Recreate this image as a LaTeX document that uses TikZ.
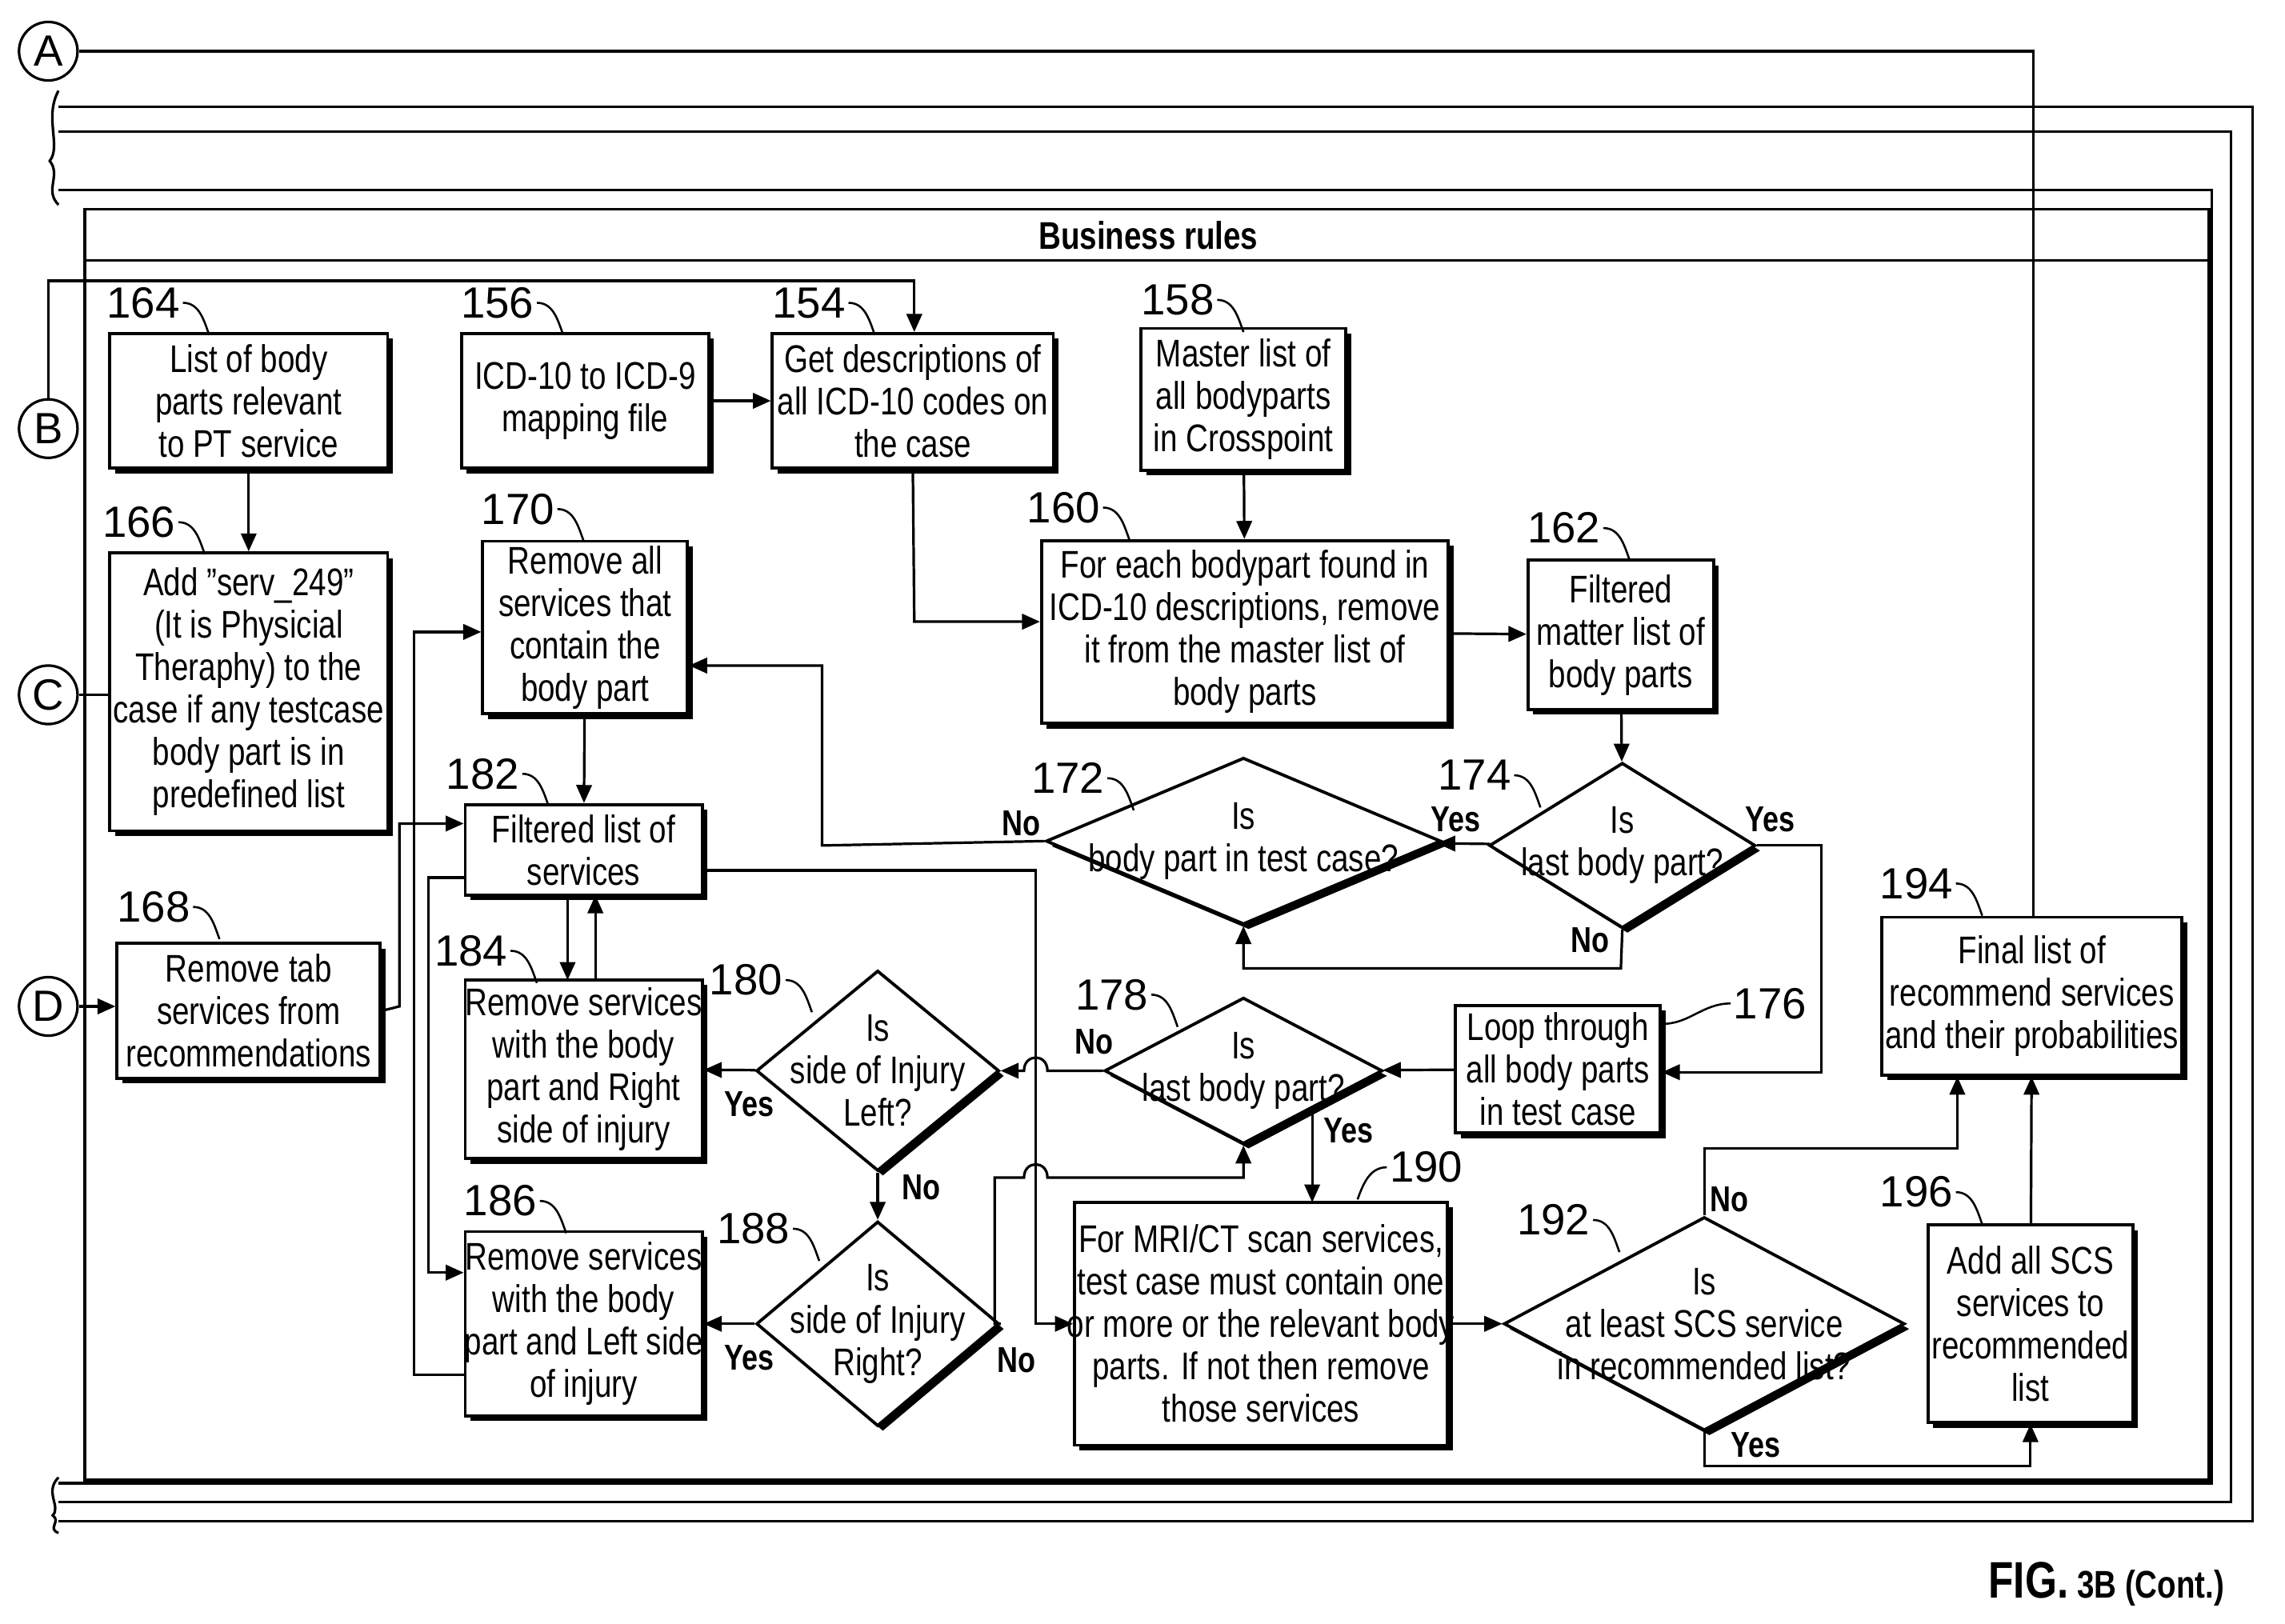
\documentclass[tikz,border=0pt]{standalone}
\usepackage{fontspec}
\setmainfont{Liberation Sans}[FakeStretch=0.8]
\newfontfamily\numfont{Liberation Sans}
\usetikzlibrary{shapes.geometric,shadows,arrows.meta}
\tikzset{
  box/.style={draw,line width=1.2pt,fill=white,align=center,inner sep=0pt,
    drop shadow={shadow xshift=2pt,shadow yshift=-2pt,opacity=1,fill=black}},
  dia/.style={diamond,draw,line width=1.2pt,fill=white,inner sep=0pt,
    drop shadow={shadow xshift=2pt,shadow yshift=-2pt,opacity=1,fill=black}},
  txt/.style={align=center,font=\fontsize{15}{16.5}\selectfont},
  num/.style={font=\numfont\fontsize{17}{18}\selectfont,inner sep=1pt},
  yn/.style={font=\bfseries\fontsize{14}{15}\selectfont,inner sep=1pt},
  hook/.style={line width=0.8pt},
  conn/.style={line width=1pt},
  arr/.style={conn,-{Triangle[length=7pt,width=6pt]}},
  letter/.style={circle,draw,line width=1pt,minimum size=40*0.02cm,inner sep=0pt,
    font=\numfont\fontsize{17}{18}\selectfont}
}
\begin{document}
\begin{tikzpicture}[x=0.02cm,y=-0.02cm]
\useasboundingbox (0,0) rectangle (1562,1110);

% frames
\draw[conn] (40,73) -- (1540,73) -- (1540,1040) -- (40,1040);
\draw[conn] (40,90) -- (1525,90) -- (1525,1027) -- (40,1027);
\draw[conn] (40,130) -- (1512,130) -- (1512,1014) -- (40,1014);
\draw[conn] (40,62) .. controls (30,80) and (42,100) .. (34,110) .. controls (42,120) and (30,130) .. (40,140);
\draw[conn] (40,1010) .. controls (30,1020) and (42,1030) .. (36,1036) .. controls (42,1040) and (32,1045) .. (40,1048);
\draw[line width=1.2pt] (58,143) rectangle (1510,1012);
\draw[line width=1pt] (58,178) -- (1510,178);
\node[font=\bfseries\fontsize{15}{16}\selectfont] (title) at (785,161) {Business rules};

% connectors letters
\node[letter] (A) at (33,35) {A};
\node[letter] (B) at (33,293) {B};
\node[letter] (C) at (33,475) {C};
\node[letter] (D) at (33,688) {D};

% boxes
\node[box,minimum width=190*0.02cm,minimum height=92*0.02cm] (b164) at (170,274) {};
\node[txt] at (b164) {List of body\\parts relevant\\to PT service};
\node[box,minimum width=169*0.02cm,minimum height=92*0.02cm] (b156) at (400,274) {};
\node[txt] at (b156) {ICD-10 to ICD-9\\mapping file};
\node[box,minimum width=192*0.02cm,minimum height=92*0.02cm] (b154) at (624,274) {};
\node[txt] at (b154) {Get descriptions of\\all ICD-10 codes on\\the case};
\node[box,minimum width=140*0.02cm,minimum height=97*0.02cm] (b158) at (850,273) {};
\node[txt] at (b158) {Master list of\\all bodyparts\\in Crosspoint};
\node[box,minimum width=190*0.02cm,minimum height=190*0.02cm] (b166) at (170,473) {};
\node[txt] at (b166) {Add "serv\_249"\\(It is Physicial\\Theraphy) to the\\case if any testcase\\body part is in\\predefined list};
\node[box,minimum width=140*0.02cm,minimum height=118*0.02cm] (b170) at (400,429) {};
\node[txt] at (b170) {Remove all\\services that\\contain the\\body part};
\node[box,minimum width=278*0.02cm,minimum height=125*0.02cm] (b160) at (851,432) {};
\node[txt] at (b160) {For each bodypart found in\\ICD-10 descriptions, remove\\it from the master list of\\body parts};
\node[box,minimum width=127*0.02cm,minimum height=102*0.02cm] (b162) at (1108,434) {};
\node[txt] at (b162) {Filtered\\matter list of\\body parts};
\node[box,minimum width=162*0.02cm,minimum height=62*0.02cm] (b182) at (399,581) {};
\node[txt] at (b182) {Filtered list of\\services};
\node[box,minimum width=180*0.02cm,minimum height=92*0.02cm] (b168) at (170,691) {};
\node[txt] at (b168) {Remove tab\\services from\\recommendations};
\node[box,minimum width=162*0.02cm,minimum height=122*0.02cm] (b184) at (399,731) {};
\node[txt] at (b184) {Remove services\\with the body\\part and Right\\side of injury};
\node[box,minimum width=162*0.02cm,minimum height=126*0.02cm] (b186) at (399,905) {};
\node[txt] at (b186) {Remove services\\with the body\\part and Left side\\of injury};
\node[box,minimum width=140*0.02cm,minimum height=87*0.02cm] (b176) at (1065,731) {};
\node[txt] at (b176) {Loop through\\all body parts\\in test case};
\node[box,minimum width=205*0.02cm,minimum height=108*0.02cm] (b194) at (1389,681) {};
\node[txt] at (b194) {Final list of\\recommend services\\and their probabilities};
\node[box,minimum width=140*0.02cm,minimum height=135*0.02cm] (b196) at (1388,905) {};
\node[txt] at (b196) {Add all SCS\\services to\\recommended\\list};
\node[box,minimum width=255*0.02cm,minimum height=166*0.02cm] (b190) at (862,905) {};
\node[txt] at (b190) {For MRI/CT scan services,\\test case must contain one\\or more or the relevant body\\parts. If not then remove\\those services};

% decisions
\node[dia,minimum width=270*0.02cm,minimum height=114*0.02cm] (d172) at (850,575) {};
\node[txt] at (d172) {Is\\body part in test case?};
\node[dia,minimum width=182*0.02cm,minimum height=113*0.02cm] (d174) at (1109,578) {};
\node[txt] at (d174) {Is\\last body part?};
\node[dia,minimum width=190*0.02cm,minimum height=100*0.02cm] (d178) at (850,732) {};
\node[txt] at (d178) {Is\\last body part?};
\node[dia,minimum width=166*0.02cm,minimum height=137*0.02cm] (d180) at (600,732) {};
\node[txt] at (d180) {Is\\side of Injury\\Left?};
\node[dia,minimum width=166*0.02cm,minimum height=140*0.02cm] (d188) at (600,905) {};
\node[txt] at (d188) {Is\\side of Injury\\Right?};
\node[dia,minimum width=274*0.02cm,minimum height=146*0.02cm] (d192) at (1165,905) {};
\node[txt] at (d192) {Is\\at least SCS service\\in recommended list?};

% reference numerals
\node[num] (n164) at (98,207) {164};
\draw[hook] (n164.east) to[out=0,in=110] ++(18,22);
\node[num] (n156) at (340,207) {156};
\draw[hook] (n156.east) to[out=0,in=110] ++(18,22);
\node[num] (n154) at (553,207) {154};
\draw[hook] (n154.east) to[out=0,in=110] ++(18,22);
\node[num] (n158) at (805,205) {158};
\draw[hook] (n158.east) to[out=0,in=110] ++(18,22);
\node[num] (n166) at (95,357) {166};
\draw[hook] (n166.east) to[out=0,in=110] ++(18,22);
\node[num] (n170) at (354,348) {170};
\draw[hook] (n170.east) to[out=0,in=110] ++(18,22);
\node[num] (n160) at (727,347) {160};
\draw[hook] (n160.east) to[out=0,in=110] ++(18,22);
\node[num] (n162) at (1069,361) {162};
\draw[hook] (n162.east) to[out=0,in=110] ++(18,22);
\node[num] (n182) at (330,529) {182};
\draw[hook] (n182.east) to[out=0,in=110] ++(18,22);
\node[num] (n172) at (730,532) {172};
\draw[hook] (n172.east) to[out=0,in=110] ++(18,22);
\node[num] (n174) at (1008,530) {174};
\draw[hook] (n174.east) to[out=0,in=110] ++(18,22);
\node[num] (n168) at (105,620) {168};
\draw[hook] (n168.east) to[out=0,in=110] ++(18,22);
\node[num] (n184) at (322,650) {184};
\draw[hook] (n184.east) to[out=0,in=110] ++(18,22);
\node[num] (n180) at (510,670) {180};
\draw[hook] (n180.east) to[out=0,in=110] ++(18,22);
\node[num] (n178) at (760,680) {178};
\draw[hook] (n178.east) to[out=0,in=110] ++(18,22);
\node[num] (n176) at (1210,686) {176};
\draw[hook] (n176.west) to[out=180,in=0] (b176.east |- 0,700);
\node[num] (n194) at (1310,604) {194};
\draw[hook] (n194.east) to[out=0,in=110] ++(18,22);
\node[num] (n190) at (975,798) {190};
\draw[hook] (n190.west) to[out=180,in=70] ++(-20,22);
\node[num] (n196) at (1310,815) {196};
\draw[hook] (n196.east) to[out=0,in=110] ++(18,22);
\node[num] (n186) at (342,821) {186};
\draw[hook] (n186.east) to[out=0,in=110] ++(18,22);
\node[num] (n188) at (515,840) {188};
\draw[hook] (n188.east) to[out=0,in=110] ++(18,22);
\node[num] (n192) at (1062,834) {192};
\draw[hook] (n192.east) to[out=0,in=110] ++(18,22);

% off-page links
\draw[conn] (A) -- (1390,35) -- (b194.north -| 1390,0);
\draw[arr] (B) -- (33,192) -- (625,192) -- (b154.north -| 625,0);
\draw[conn] (C) -- (b166.west |- C);
\draw[arr] (D) -- (b168.west |- D);

% flow
\draw[arr] (b164) -- (b166);
\draw[arr] (b156) -- (b154);
\draw[arr] (b154.south) -- (625,425) -- (b160.west |- 0,425);
\draw[arr] (b158) -- (b160);
\draw[arr] (b160) -- (b162);
\draw[arr] (b162) -- (d174);
\draw[arr] (d174) -- (d172);
\node[yn] (y174a) at (995,560) {Yes};
\draw[arr] (d172.west) -- (562,578) -- (562,455) -- (b170.east |- 0,455);
\node[yn] (n172no) at (698,563) {No};
\draw[arr] (d174.south) -- (1108,662) -- (850,662) -- (d172.south);
\node[yn] (n174no) at (1087,643) {No};
\draw[arr] (d174.east) -- (1245,578) -- (1245,733) -- (b176.east |- 0,733);
\node[yn] (y174b) at (1210,560) {Yes};
\draw[arr] (b176) -- (d178);
\draw[arr] (d178.west) -- (716,732) .. controls (716,720) and (700,720) .. (700,732) -- (d180.east);
\node[yn] (n178no) at (748,712) {No};
\draw[arr] (897,757) -- (897,822);
\node[yn] (y178) at (922,773) {Yes};
\draw[arr] (d180) -- (b184);
\node[yn] (y180) at (512,755) {Yes};
\draw[arr] (d180) -- (d188);
\node[yn] (n180no) at (630,812) {No};
\draw[arr] (d188) -- (b186);
\node[yn] (y188) at (512,928) {Yes};
\draw[arr] (d188.east) -- (680,905) -- (680,805) -- (700,805) .. controls (700,793) and (716,793) .. (716,805) -- (850,805) -- (d178.south);
\node[yn] (n188no) at (695,930) {No};
\draw[arr] (b182.east |- 0,595) -- (708,595) -- (708,905) -- (b190.west);
\draw[arr] (b170) -- (b182);
\draw[arr] (388,612) -- (388,670);
\draw[arr] (407,670) -- (407,612);
\draw[arr] (b186.west |- 0,940) -- (283,940) -- (283,432) -- (b170.west |- 0,432);
\draw[arr] (b168.east) -- (273,688) -- (273,563) -- (b182.west |- 0,563);
\draw[arr] (b182.west |- 0,600) -- (293,600) -- (293,870) -- (b186.west |- 0,870);
\draw[arr] (b190) -- (d192);
\draw[arr] (d192.north) -- (1165,785) -- (1338,785) -- (b194.south -| 1338,0);
\node[yn] (n192no) at (1182,820) {No};
\draw[arr] (d192.south) -- (1165,1002) -- (1388,1002) -- (b196.south);
\node[yn] (y192) at (1200,988) {Yes};
\draw[arr] (b196) -- (b194);

\node[font=\bfseries\fontsize{15}{16}\selectfont] (fig) at (1440,1083) {{\fontsize{20}{21}\selectfont FIG.} 3B (Cont.)};
\end{tikzpicture}
\end{document}
